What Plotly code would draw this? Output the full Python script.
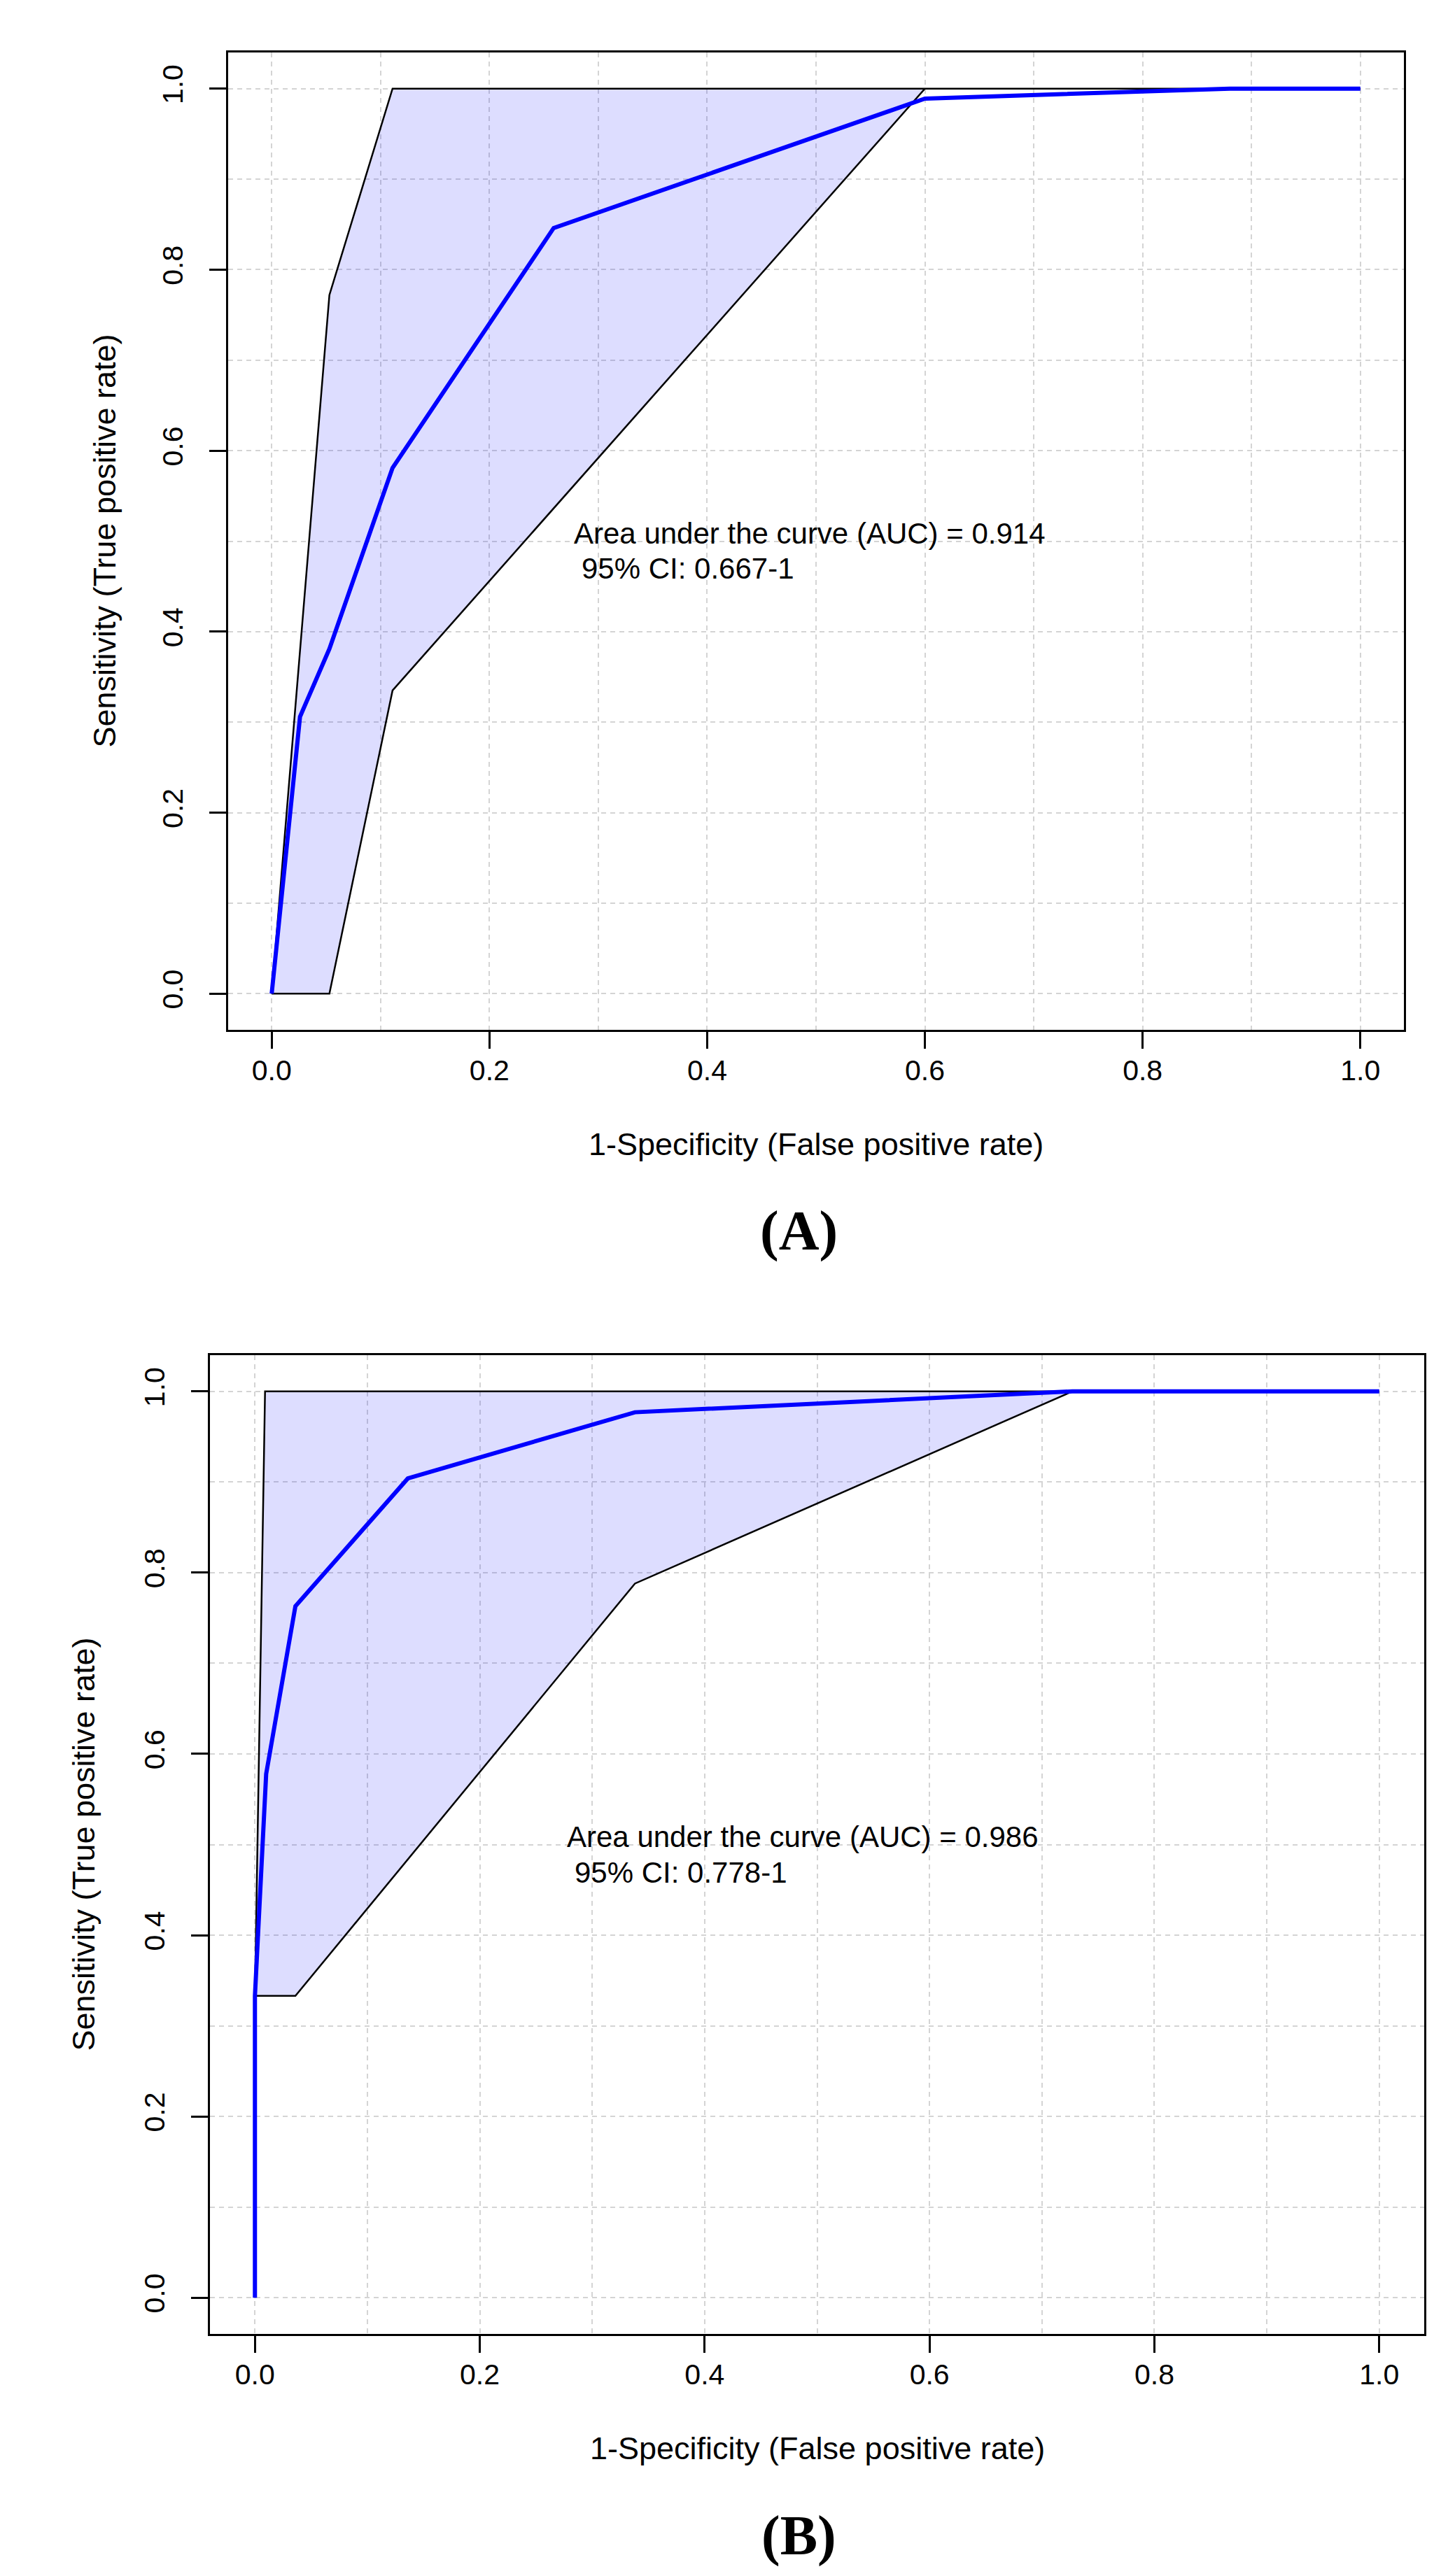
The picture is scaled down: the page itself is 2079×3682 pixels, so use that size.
import plotly.graph_objects as go

# ---------------- data ----------------
# Panel A
a_roc_fpr = [0.0, 0.026, 0.053, 0.111, 0.259, 0.600, 0.880, 1.000]
a_roc_tpr = [0.0, 0.306, 0.381, 0.581, 0.846, 0.989, 1.000, 1.000]
a_upper_fpr = [0.0, 0.053, 0.111, 1.000]
a_upper_tpr = [0.0, 0.772, 1.000, 1.000]
a_lower_fpr = [0.0, 0.053, 0.111, 0.600, 1.000]
a_lower_tpr = [0.0, 0.000, 0.335, 1.000, 1.000]
a_auc_text = "Area under the curve (AUC) = 0.914"
a_ci_text = "95% CI: 0.667-1"

# Panel B
b_roc_fpr = [0.0, 0.0, 0.010, 0.036, 0.136, 0.338, 0.727, 1.000]
b_roc_tpr = [0.0, 0.333, 0.578, 0.763, 0.904, 0.977, 1.000, 1.000]
b_upper_fpr = [0.0, 0.0, 0.009, 1.000]
b_upper_tpr = [0.0, 0.333, 1.000, 1.000]
b_lower_fpr = [0.0, 0.0, 0.036, 0.338, 0.727, 1.000]
b_lower_tpr = [0.0, 0.333, 0.333, 0.788, 1.000, 1.000]
b_auc_text = "Area under the curve (AUC) = 0.986"
b_ci_text = "95% CI: 0.778-1"

panel_labels = ["(A)", "(B)"]
x_title = "1-Specificity (False positive rate)"
y_title = "Sensitivity (True positive rate)"
tick_vals = [0.0, 0.2, 0.4, 0.6, 0.8, 1.0]
tick_text = ["0.0", "0.2", "0.4", "0.6", "0.8", "1.0"]

# ---------------- layout geometry ----------------
W, H = 2079, 3682
FONT = "Liberation Sans"
FILL = "rgba(0,0,255,0.135)"
GRID = "#d4d4d4"

panels = [
    dict(left=318, right=1998, top=67, bottom=1464, ytitle_off=177,
         roc=(a_roc_fpr, a_roc_tpr), up=(a_upper_fpr, a_upper_tpr), lo=(a_lower_fpr, a_lower_tpr),
         auc=a_auc_text, ci=a_ci_text, label=panel_labels[0]),
    dict(left=292, right=2027, top=1929, bottom=3328, ytitle_off=181,
         roc=(b_roc_fpr, b_roc_tpr), up=(b_upper_fpr, b_upper_tpr), lo=(b_lower_fpr, b_lower_tpr),
         auc=b_auc_text, ci=b_ci_text, label=panel_labels[1]),
]

fig = go.Figure()
annotations = []

for i, p in enumerate(panels):
    sfx = "" if i == 0 else str(i + 1)
    xa, ya = "x" + sfx, "y" + sfx
    xdom = [p["left"] / W, p["right"] / W]
    ydom = [1 - p["bottom"] / H, 1 - p["top"] / H]

    up_x, up_y = p["up"]
    lo_x, lo_y = p["lo"]
    poly_x = list(up_x) + list(reversed(lo_x))
    poly_y = list(up_y) + list(reversed(lo_y))
    fig.add_trace(go.Scatter(x=poly_x, y=poly_y, mode="lines", fill="toself",
                             fillcolor=FILL, line=dict(color="black", width=2.5),
                             xaxis=xa, yaxis=ya, showlegend=False, hoverinfo="skip"))
    rx, ry = p["roc"]
    fig.add_trace(go.Scatter(x=rx, y=ry, mode="lines",
                             line=dict(color="#0000ff", width=6),
                             xaxis=xa, yaxis=ya, showlegend=False))

    axis_common = dict(
        range=[-0.04, 1.04], tickvals=tick_vals, ticktext=tick_text,
        showline=True, mirror=True, linecolor="black", linewidth=3,
        ticks="outside", ticklen=24, tickwidth=3, tickcolor="black",
        showgrid=True, gridcolor=GRID, gridwidth=2, griddash="7px,6px",
        minor=dict(dtick=0.1, tick0=0, showgrid=True, gridcolor=GRID, gridwidth=2,
                   griddash="7px,6px", ticks=""),
        zeroline=False, tickfont=dict(family=FONT, size=41, color="black"),
        fixedrange=True,
    )
    fig.layout["xaxis" + sfx] = dict(axis_common, domain=xdom, anchor=ya,
                                      ticklabelstandoff=-4)
    fig.layout["yaxis" + sfx] = dict(axis_common, domain=ydom, anchor=xa,
                                      tickangle=-90, ticklabelstandoff=22)

    # AUC text (two stacked lines)
    annotations.append(dict(x=0.276, y=0.5085, xref=xa, yref=ya, text=p["auc"],
                            showarrow=False, xanchor="left", yanchor="middle",
                            font=dict(family=FONT, size=42, color="black")))
    annotations.append(dict(x=0.276, y=0.4695, xref=xa, yref=ya, text=p["ci"],
                            showarrow=False, xanchor="left", yanchor="middle", xshift=11,
                            font=dict(family=FONT, size=42, color="black")))
    # axis titles
    cx = (p["left"] + p["right"]) / 2 / W
    annotations.append(dict(x=cx, y=1 - (p["bottom"] + 163) / H, xref="paper", yref="paper",
                            text=x_title, showarrow=False, xanchor="center", yanchor="middle",
                            font=dict(family=FONT, size=45, color="black")))
    cy = 1 - (p["top"] + p["bottom"]) / 2 / H
    annotations.append(dict(x=(p["left"] - p["ytitle_off"]) / W, y=cy, xref="paper", yref="paper",
                            text=y_title, showarrow=False, textangle=-90,
                            xanchor="center", yanchor="middle",
                            font=dict(family=FONT, size=45, color="black")))
    # panel label
    annotations.append(dict(x=1133 / W, y=1 - (p["bottom"] + 288) / H, xref="paper", yref="paper",
                            text="<b>" + p["label"] + "</b>", showarrow=False,
                            xanchor="center", yanchor="middle",
                            font=dict(family="Liberation Serif", size=80, color="black")))

fig.update_layout(width=W, height=H, margin=dict(l=0, r=0, t=0, b=0),
                  paper_bgcolor="white", plot_bgcolor="white",
                  annotations=annotations, showlegend=False)

fig.write_html("out.html")
